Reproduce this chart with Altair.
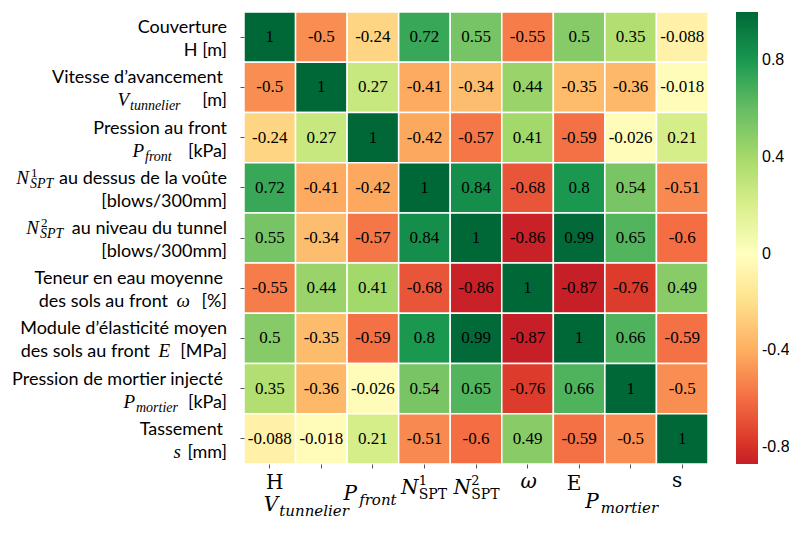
import math
import altair as alt
import pandas as pd

# ---------------- data ----------------
keys = ["H", "Vt", "Pf", "N1", "N2", "w", "E", "Pm", "s"]

corr = [
    [1, -0.5, -0.24, 0.72, 0.55, -0.55, 0.5, 0.35, -0.088],
    [-0.5, 1, 0.27, -0.41, -0.34, 0.44, -0.35, -0.36, -0.018],
    [-0.24, 0.27, 1, -0.42, -0.57, 0.41, -0.59, -0.026, 0.21],
    [0.72, -0.41, -0.42, 1, 0.84, -0.68, 0.8, 0.54, -0.51],
    [0.55, -0.34, -0.57, 0.84, 1, -0.86, 0.99, 0.65, -0.6],
    [-0.55, 0.44, 0.41, -0.68, -0.86, 1, -0.87, -0.76, 0.49],
    [0.5, -0.35, -0.59, 0.8, 0.99, -0.87, 1, 0.66, -0.59],
    [0.35, -0.36, -0.026, 0.54, 0.65, -0.76, 0.66, 1, -0.5],
    [-0.088, -0.018, 0.21, -0.51, -0.6, 0.49, -0.59, -0.5, 1],
]

# y-axis labels: two lines per variable, each line a list of (text, kind)
ylab_line1 = [
    [("Couverture", "sans")],
    [("Vitesse d’avancement", "sans")],
    [("Pression au front", "sans")],
    [("N", "math"), ("1", "sup"), ("SPT", "sub"), ("au dessus de la voûte", "sans")],
    [("N", "math"), ("2", "sup"), ("SPT", "sub"), ("au niveau du tunnel", "sans")],
    [("Teneur en eau moyenne", "sans")],
    [("Module d’élasticité moyen", "sans")],
    [("Pression de mortier injecté", "sans")],
    [("Tassement", "sans")],
]
ylab_line2 = [
    [("H [m]", "sans")],
    [("V", "math"), ("tunnelier", "sub"), ("[m]", "sans")],
    [("P", "math"), ("front", "sub"), ("[kPa]", "sans")],
    [("[blows/300mm]", "sans")],
    [("[blows/300mm]", "sans")],
    [("des sols au front", "sans"), ("ω", "math"), ("[%]", "sans")],
    [("des sols au front", "sans"), ("E", "math"), ("[MPa]", "sans")],
    [("P", "math"), ("mortier", "sub"), ("[kPa]", "sans")],
    [("s", "math"), ("[mm]", "sans")],
]

# x-axis labels: (text, kind)
xlab = [
    [("H", "xmainU")],
    [("V", "xmain"), ("tunnelier", "xsub")],
    [("P", "xmain"), ("front", "xsub")],
    [("N", "xmain"), ("1", "xsup"), ("SPT", "xsubU")],
    [("N", "xmain"), ("2", "xsup"), ("SPT", "xsubU")],
    [("ω", "xmain")],
    [("E", "xmainU")],
    [("P", "xmain"), ("mortier", "xsub")],
    [("s", "xmainU")],
]

legend_values = [0.8, 0.4, 0, -0.4, -0.8]
data_min, data_max = -0.87, 1.0

# ---------------- layout / style (not data) ----------------
W, H = 464, 452
PLOT_LEFT_PAGE = 244
STY = {
    "sans": ("Lato", 18, "normal", 0),
    "math": ("Liberation Serif", 19, "italic", 0),
    "sub": ("Liberation Serif", 14, "italic", 4),
    "sup": ("Liberation Serif", 13, "normal", -7),
    "xmain": ("DejaVu Serif", 20, "italic", 0),
    "xmainU": ("DejaVu Serif", 20, "normal", 0),
    "xsub": ("DejaVu Serif", 15, "italic", 5),
    "xsubU": ("DejaVu Serif", 14, "normal", 5),
    "xsup": ("DejaVu Serif", 13, "normal", -9),
}
# anchor of each y-label piece (page px): ("R", x) right edge or ("L", x) left edge
ylab_pos1 = [[("R", 227)], [("R", 223)], [("R", 227)],
             [("R", 29), ("L", 31), ("L", 30), ("R", 227)],
             [("R", 39), ("L", 41), ("L", 40), ("R", 227)],
             [("R", 223)], [("R", 227)], [("R", 223)], [("R", 223)]]
ylab_pos2 = [[("R", 227)],
             [("R", 129), ("L", 130), ("R", 227)],
             [("R", 144), ("L", 145), ("R", 227)],
             [("R", 227)], [("R", 227)],
             [("R", 168), ("R", 190), ("R", 227)],
             [("R", 150), ("R", 170), ("R", 227)],
             [("R", 135), ("L", 136), ("R", 227)],
             [("R", 181), ("R", 227)]]
LINE_DY = [-4, 19]
# x labels: centre offset from column centre, baseline below plot bottom
xlab_cx = [5, -15, -3, 0, 1, 1, -5, -9, -5]
xlab_base = [25, 47, 36, 30, 30, 24, 26, 44, 23]

# colour map: RdYlGn (ColorBrewer 11) centred on 0 over [-1, 1], cut to data range
RDYLGN = ["#a50026", "#d73027", "#f46d43", "#fdae61", "#fee08b", "#ffffbf",
          "#d9ef8b", "#a6d96a", "#66bd63", "#1a9850", "#006837"]


def hex2rgb(h):
    return [int(h[i:i + 2], 16) for i in (1, 3, 5)]


def cmap_at(v):
    t = (v + 1) / 2 * (len(RDYLGN) - 1)
    k = min(int(math.floor(t)), len(RDYLGN) - 2)
    f = t - k
    a, b = hex2rgb(RDYLGN[k]), hex2rgb(RDYLGN[k + 1])
    return "#" + "".join(f"{round(a[i] + (b[i] - a[i]) * f):02x}" for i in range(3))


stops = [-1 + 0.2 * k for k in range(len(RDYLGN))]
c_dom = [data_min] + [round(s, 2) for s in stops if s > data_min + 1e-9]
c_rng = [cmap_at(data_min)] + [RDYLGN[k] for k, s in enumerate(stops) if s > data_min + 1e-9]

# ---------------- tables ----------------
cells = []
for i, r in enumerate(keys):
    for j, c in enumerate(keys):
        v = corr[i][j]
        cells.append({"row": r, "col": c, "val": v, "txt": f"{v:.2g}"})
cells = pd.DataFrame(cells)

ypieces = []
for i, r in enumerate(keys):
    for li, (line, poss) in enumerate(((ylab_line1[i], ylab_pos1[i]),
                                       (ylab_line2[i], ylab_pos2[i]))):
        for (txt, kind), (side, px) in zip(line, poss):
            font, size, style, kdy = STY[kind]
            ypieces.append({"row": r, "txt": txt, "font": font, "fs": size,
                            "fst": style, "al": "right" if side == "R" else "left",
                            "dx": px - PLOT_LEFT_PAGE, "dy": LINE_DY[li] + kdy})
ypieces = pd.DataFrame(ypieces)

DV = {'a': .596, 'e': .592, 'f': .352, 'i': .319, 'l': .319, 'm': .948,
      'n': .644, 'o': .602, 'r': .478, 't': .401, 'u': .644, 's': .513,
      'H': .872, 'V': .722, 'P': .733, 'N': .837, 'E': .730, 'S': .685,
      'T': .667, '1': .636, '2': .636, 'ω': .80}


def w_est(text, size):
    return sum(DV.get(ch, .6) for ch in text) * size


xpieces = []
for j, col in enumerate(keys):
    pcs = xlab[j]
    main_txt, main_kind = pcs[0]
    f, sz, st, kdy = STY[main_kind]
    wm = w_est(main_txt, sz)
    items = [(main_txt, main_kind, 0.0, wm)]
    for txt, kind in pcs[1:]:
        f2, sz2, st2, kdy2 = STY[kind]
        items.append((txt, kind, wm + 1, w_est(txt, sz2)))
    L = max(a + b for _, _, a, b in items)
    x0 = xlab_cx[j] - L / 2
    for txt, kind, a, b in items:
        f2, sz2, st2, kdy2 = STY[kind]
        xpieces.append({"col": col, "txt": txt, "font": f2, "fs": sz2,
                        "fst": st2, "dx": x0 + a, "dy": xlab_base[j] + kdy2})
xpieces = pd.DataFrame(xpieces)

# ---------------- chart ----------------
band = alt.Scale(domain=keys, paddingInner=0, paddingOuter=0)
xaxis = alt.Axis(labels=False, ticks=True, tickSize=4, tickColor="#555",
                 tickWidth=1, domain=False, title=None, grid=False)
yaxis = alt.Axis(labels=False, ticks=True, tickSize=4, tickColor="#555",
                 tickWidth=1, domain=False, title=None, grid=False)

heat = alt.Chart(cells).mark_rect(stroke="white", strokeWidth=1.5).encode(
    x=alt.X("col:N", scale=band, axis=xaxis),
    y=alt.Y("row:N", scale=band, axis=yaxis),
    color=alt.Color(
        "val:Q",
        scale=alt.Scale(domain=c_dom, range=c_rng, interpolate="rgb", nice=False),
        legend=alt.Legend(
            title=None, orient="right", offset=28, padding=0,
            gradientLength=H, gradientThickness=22, gradientStrokeWidth=0,
            values=legend_values, direction="vertical",
            labelExpr="datum.value < 0 ? '-' + format(-datum.value, '.1~f') : format(datum.value, '.1~f')",
            labelFont="Liberation Sans", labelFontSize=16, labelColor="black",
            labelOffset=4, labelOverlap=False,
        ),
    ),
)

annot = alt.Chart(cells).mark_text(
    font="Liberation Serif", fontSize=17, color="black", baseline="middle"
).encode(
    x=alt.X("col:N", scale=band, axis=xaxis),
    y=alt.Y("row:N", scale=band, axis=yaxis),
    text="txt:N",
)

ylabels = alt.Chart(ypieces).mark_text(
    baseline="alphabetic", color="black",
    align={"expr": "datum.al"},
    dx={"expr": "datum.dx"}, dy={"expr": "datum.dy"},
    font={"expr": "datum.font"}, fontSize={"expr": "datum.fs"},
    fontStyle={"expr": "datum.fst"},
).encode(
    y=alt.Y("row:N", scale=band, axis=yaxis),
    x=alt.value(0),
    text="txt:N",
)

xlabels = alt.Chart(xpieces).mark_text(
    align="left", baseline="alphabetic", color="black",
    dx={"expr": "datum.dx"}, dy={"expr": "datum.dy"},
    font={"expr": "datum.font"}, fontSize={"expr": "datum.fs"},
    fontStyle={"expr": "datum.fst"},
).encode(
    x=alt.X("col:N", scale=band, axis=xaxis),
    y=alt.value(H),
    text="txt:N",
)

chart = alt.layer(heat, annot, ylabels, xlabels).properties(
    width=W, height=H,
    autosize=alt.AutoSizeParams(type="none"),
    padding={"left": 236, "top": 4, "right": 81, "bottom": 68},
).configure_view(stroke=None)

chart.save("out.html", embed_options={"renderer": "svg", "actions": False})
